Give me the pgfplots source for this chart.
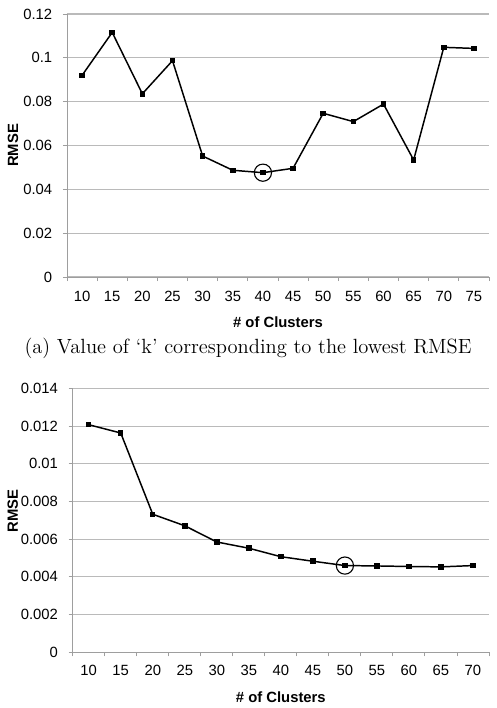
\documentclass[border=0pt]{standalone}
\usepackage{pgfplots}
\pgfplotsset{compat=1.18}
\usepackage{fontspec}
\newfontfamily\arial{Liberation Sans}
\newdimen\px \px=0.54pt
\begin{document}
\begin{tikzpicture}
\useasboundingbox (0,0) rectangle (496*\px,-708*\px);
\pgfplotsset{
  myaxis/.style={
    scale only axis,
    axis lines*=left,
    axis line style={draw=black!38, line width=0.5pt},
    ymajorgrids,
    grid style={draw=black!27, line width=0.55pt},
    tick align=outside,
    major tick length=4*\px,
    minor tick length=4*\px,
    tick style={draw=black!38, line width=0.5pt},
    major x tick style={draw=none},
    scaled y ticks=false,
    ticklabel style={font=\arial\fontsize{8}{9.6}\selectfont},
    yticklabel style={/pgf/number format/fixed, /pgf/number format/precision=3,
      /pgf/number format/assume math mode=true, xshift=-2.3pt},
    xticklabel style={yshift=-2pt},
    label style={font=\arial\bfseries\fontsize{8}{9.6}\selectfont},
    xlabel style={at={(axis description cs:0.5,0)}, anchor=center, yshift=-24.2pt},
    xlabel={\# of Clusters},
    ylabel={RMSE},
    ymin=0,
  },
  myline/.style={black, line width=0.8pt, mark=square*, mark size=2*\px},
  mycircle/.style={only marks, mark=o, mark size=8.6*\px, mark options={black, line width=0.6pt}},
}
% ---------- top axis ----------
\begin{axis}[myaxis,
  at={(67*\px,-14*\px)}, anchor=north west,
  width=422*\px, height=263*\px,
  xmin=-0.5, xmax=13.5, ymax=0.12,
  xtick={0,...,13},
  xticklabels={10,15,20,25,30,35,40,45,50,55,60,65,70,75},
  minor xtick={-0.5,0.5,...,13.5},
  ytick={0,0.02,0.04,0.06,0.08,0.1,0.12},
  ylabel style={at={(axis description cs:-0.128,0.5)}, anchor=center},
]
\addplot[myline] coordinates {
  (0,0.0920) (1,0.1116) (2,0.0836) (3,0.0987) (4,0.0552) (5,0.0487) (6,0.0476)
  (7,0.0496) (8,0.0747) (9,0.0709) (10,0.0789) (11,0.0534) (12,0.1048) (13,0.1043)
};
\addplot[mycircle] coordinates {(6,0.0476)};
\end{axis}
\node[anchor=base, font=\fontsize{11.1}{13}\selectfont] at (248*\px,-353.3*\px)
  {(a) Value of `k' corresponding to the lowest RMSE};
% ---------- bottom axis ----------
\begin{axis}[myaxis,
  at={(72.7*\px,-388.3*\px)}, anchor=north west,
  width=416.3*\px, height=264*\px,
  xmin=-0.5, xmax=12.5, ymax=0.014,
  xtick={0,...,12},
  xticklabels={10,15,20,25,30,35,40,45,50,55,60,65,70},
  minor xtick={-0.5,0.5,...,12.5},
  ytick={0,0.002,0.004,0.006,0.008,0.01,0.012,0.014},
  ylabel style={at={(axis description cs:-0.144,0.536)}, anchor=center},
  xticklabel style={yshift=0.7pt},
]
\addplot[myline] coordinates {
  (0,0.01207) (1,0.01163) (2,0.00732) (3,0.00671) (4,0.00585) (5,0.00552) (6,0.00507)
  (7,0.00483) (8,0.00460) (9,0.00458) (10,0.00455) (11,0.00453) (12,0.00460)
};
\addplot[mycircle] coordinates {(8,0.00460)};
\end{axis}
\end{tikzpicture}
\end{document}
